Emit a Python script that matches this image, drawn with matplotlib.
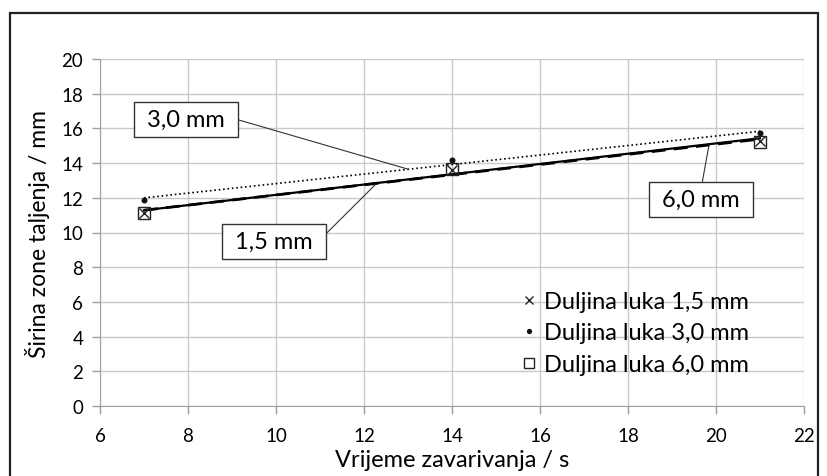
import matplotlib
matplotlib.use("Agg")
import matplotlib.pyplot as plt
import numpy as np
from matplotlib.patches import Rectangle

plt.rcParams['font.family'] = ['Lato', 'DejaVu Sans']

# data
vrijeme = [7, 14, 21]
sirina_15 = [11.15, 13.62, 15.30]
sirina_30 = [11.88, 14.15, 15.72]
sirina_60 = [11.12, 13.66, 15.22]
labels = ['Duljina luka 1,5 mm', 'Duljina luka 3,0 mm', 'Duljina luka 6,0 mm']


def main():
    fig = plt.figure(figsize=(8.27, 4.77), dpi=100)
    ax = fig.add_axes([100 / 827, 1 - 407 / 477, 704 / 827, 347 / 477])

    # outer chart frame (bottom edge cut off in reference)
    fig.patches.append(Rectangle((10 / 827, -0.1), 808 / 827, 1.1 - 14 / 477,
                                 transform=fig.transFigure, fill=False,
                                 edgecolor='#222222', linewidth=1.6))

    ax.plot(vrijeme, sirina_15, linestyle='none', marker='x', color='#222222',
            markersize=6.5, markeredgewidth=1.0, label=labels[0], zorder=4)
    ax.plot(vrijeme, sirina_30, linestyle='none', marker='o', color='#111111',
            markersize=3.3, label=labels[1], zorder=4)
    ax.plot(vrijeme, sirina_60, linestyle='none', marker='s', color='#222222',
            markerfacecolor='none', markersize=8, markeredgewidth=1.0,
            label=labels[2], zorder=4)

    # linear trend lines
    xs = np.array([vrijeme[0], vrijeme[-1]])
    for y, ls, lw in [(sirina_15, '-', 1.6), (sirina_30, ':', 1.2), (sirina_60, (0, (5, 3)), 2.0)]:
        k, n = np.polyfit(vrijeme, y, 1)
        ax.plot(xs, k * xs + n, linestyle=ls, color='black', linewidth=lw, zorder=3)

    ax.set_xlim(6, 22)
    ax.set_ylim(0, 20)
    ax.set_xticks(range(6, 23, 2))
    ax.set_yticks(range(0, 21, 2))
    ax.grid(True, color='#c8c8c8', linewidth=1.0)
    ax.set_axisbelow(True)
    for s in ['top', 'right']:
        ax.spines[s].set_visible(False)
    for s in ['left', 'bottom']:
        ax.spines[s].set_color('#a0a0a0')
    ax.tick_params(colors='#a0a0a0', labelcolor='black', labelsize=13.5, length=6, width=1)
    ax.tick_params(axis='x', pad=9)
    ax.tick_params(axis='y', pad=6)

    ax.set_xlabel('Vrijeme zavarivanja / s', fontsize=17, labelpad=4)
    ax.set_ylabel('Širina zone taljenja / mm', fontsize=16.5, labelpad=8)

    ax.legend(loc='center left', bbox_to_anchor=(522 / 827, 1 - 334 / 477),
              bbox_transform=fig.transFigure, frameon=False, fontsize=17,
              handlelength=0.6, handletextpad=0.35, labelspacing=0.45,
              borderaxespad=0, borderpad=0, markerscale=0.85)

    # callout labels
    box = dict(boxstyle='square,pad=0.3', facecolor='white', edgecolor='#333333', linewidth=1)
    line = dict(arrowstyle='-', color='#333333', linewidth=0.8, shrinkA=0, shrinkB=0)
    ax.annotate(' 3,0 mm ', xy=(13.0, 13.65), xytext=(7.95, 16.5), fontsize=17,
                ha='center', va='center', bbox=box, arrowprops=dict(line, relpos=(1.0, 0.6)))
    ax.annotate(' 1,5 mm ', xy=(12.25, 12.74), xytext=(9.95, 9.5), fontsize=17,
                ha='center', va='center', bbox=box, arrowprops=dict(line, relpos=(1.0, 0.5)))
    ax.annotate(' 6,0 mm ', xy=(19.84, 15.04), xytext=(19.66, 11.9), fontsize=17,
                ha='center', va='center', bbox=box, arrowprops=dict(line, relpos=(0.5, 1.0)))

    fig.savefig('out.png', dpi=100)


if __name__ == '__main__':
    main()
